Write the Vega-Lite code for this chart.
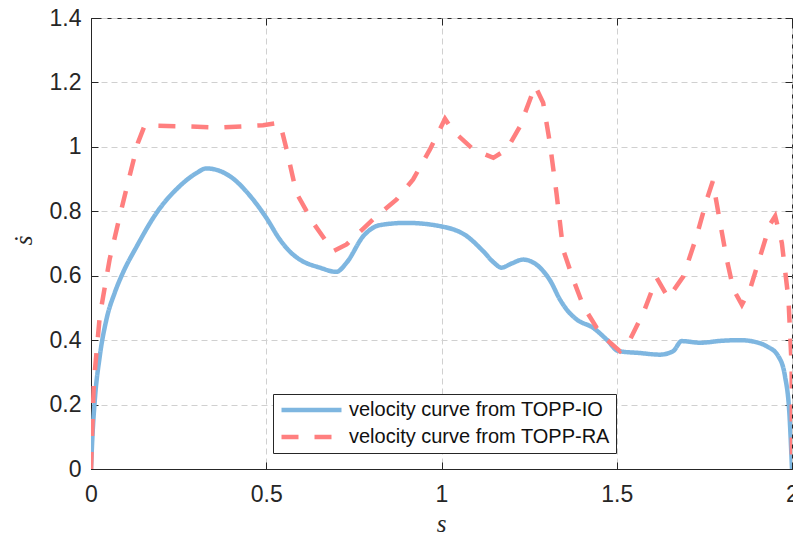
{
  "$schema": "https://vega.github.io/schema/vega-lite/v6.json",
  "width": 701,
  "height": 451,
  "autosize": {"type": "none"},
  "padding": {"left": 91, "top": 18, "right": 1, "bottom": 67},
  "background": "white",
  "config": {
    "view": {"stroke": "#262626", "strokeWidth": 1},
    "axis": {
      "labelFont": "Liberation Sans",
      "labelFontSize": 23,
      "labelColor": "#262626",
      "labelFlush": false,
      "domainColor": "#262626",
      "tickColor": "#262626",
      "tickSize": -7,
      "gridColor": "#d0d0d0",
      "gridDash": [6, 4],
      "gridWidth": 1
    }
  },
  "data": {
    "values": [
      {"s": 0, "v": 0, "series": "velocity curve from TOPP-IO"},
      {"s": 0.004, "v": 0.1, "series": "velocity curve from TOPP-IO"},
      {"s": 0.011, "v": 0.216, "series": "velocity curve from TOPP-IO"},
      {"s": 0.025, "v": 0.35, "series": "velocity curve from TOPP-IO"},
      {"s": 0.044, "v": 0.464, "series": "velocity curve from TOPP-IO"},
      {"s": 0.068, "v": 0.548, "series": "velocity curve from TOPP-IO"},
      {"s": 0.091, "v": 0.609, "series": "velocity curve from TOPP-IO"},
      {"s": 0.13, "v": 0.69, "series": "velocity curve from TOPP-IO"},
      {"s": 0.187, "v": 0.795, "series": "velocity curve from TOPP-IO"},
      {"s": 0.253, "v": 0.878, "series": "velocity curve from TOPP-IO"},
      {"s": 0.3, "v": 0.918, "series": "velocity curve from TOPP-IO"},
      {"s": 0.329, "v": 0.933, "series": "velocity curve from TOPP-IO"},
      {"s": 0.36, "v": 0.928, "series": "velocity curve from TOPP-IO"},
      {"s": 0.396, "v": 0.909, "series": "velocity curve from TOPP-IO"},
      {"s": 0.462, "v": 0.837, "series": "velocity curve from TOPP-IO"},
      {"s": 0.5, "v": 0.78, "series": "velocity curve from TOPP-IO"},
      {"s": 0.539, "v": 0.712, "series": "velocity curve from TOPP-IO"},
      {"s": 0.57, "v": 0.672, "series": "velocity curve from TOPP-IO"},
      {"s": 0.596, "v": 0.65, "series": "velocity curve from TOPP-IO"},
      {"s": 0.653, "v": 0.625, "series": "velocity curve from TOPP-IO"},
      {"s": 0.7, "v": 0.612, "series": "velocity curve from TOPP-IO"},
      {"s": 0.729, "v": 0.64, "series": "velocity curve from TOPP-IO"},
      {"s": 0.777, "v": 0.723, "series": "velocity curve from TOPP-IO"},
      {"s": 0.824, "v": 0.757, "series": "velocity curve from TOPP-IO"},
      {"s": 0.9, "v": 0.764, "series": "velocity curve from TOPP-IO"},
      {"s": 0.995, "v": 0.754, "series": "velocity curve from TOPP-IO"},
      {"s": 1.072, "v": 0.723, "series": "velocity curve from TOPP-IO"},
      {"s": 1.119, "v": 0.676, "series": "velocity curve from TOPP-IO"},
      {"s": 1.15, "v": 0.64, "series": "velocity curve from TOPP-IO"},
      {"s": 1.171, "v": 0.625, "series": "velocity curve from TOPP-IO"},
      {"s": 1.2, "v": 0.638, "series": "velocity curve from TOPP-IO"},
      {"s": 1.233, "v": 0.65, "series": "velocity curve from TOPP-IO"},
      {"s": 1.26, "v": 0.642, "series": "velocity curve from TOPP-IO"},
      {"s": 1.281, "v": 0.625, "series": "velocity curve from TOPP-IO"},
      {"s": 1.31, "v": 0.585, "series": "velocity curve from TOPP-IO"},
      {"s": 1.338, "v": 0.526, "series": "velocity curve from TOPP-IO"},
      {"s": 1.357, "v": 0.495, "series": "velocity curve from TOPP-IO"},
      {"s": 1.386, "v": 0.464, "series": "velocity curve from TOPP-IO"},
      {"s": 1.433, "v": 0.438, "series": "velocity curve from TOPP-IO"},
      {"s": 1.471, "v": 0.402, "series": "velocity curve from TOPP-IO"},
      {"s": 1.505, "v": 0.366, "series": "velocity curve from TOPP-IO"},
      {"s": 1.566, "v": 0.36, "series": "velocity curve from TOPP-IO"},
      {"s": 1.623, "v": 0.355, "series": "velocity curve from TOPP-IO"},
      {"s": 1.661, "v": 0.366, "series": "velocity curve from TOPP-IO"},
      {"s": 1.685, "v": 0.397, "series": "velocity curve from TOPP-IO"},
      {"s": 1.738, "v": 0.392, "series": "velocity curve from TOPP-IO"},
      {"s": 1.8, "v": 0.398, "series": "velocity curve from TOPP-IO"},
      {"s": 1.852, "v": 0.4, "series": "velocity curve from TOPP-IO"},
      {"s": 1.9, "v": 0.393, "series": "velocity curve from TOPP-IO"},
      {"s": 1.928, "v": 0.381, "series": "velocity curve from TOPP-IO"},
      {"s": 1.961, "v": 0.35, "series": "velocity curve from TOPP-IO"},
      {"s": 1.98, "v": 0.288, "series": "velocity curve from TOPP-IO"},
      {"s": 1.993, "v": 0.164, "series": "velocity curve from TOPP-IO"},
      {"s": 2.0, "v": 0.0, "series": "velocity curve from TOPP-IO"},
      {"s": 0, "v": 0, "series": "velocity curve from TOPP-RA"},
      {"s": 0.008, "v": 0.268, "series": "velocity curve from TOPP-RA"},
      {"s": 0.025, "v": 0.474, "series": "velocity curve from TOPP-RA"},
      {"s": 0.053, "v": 0.65, "series": "velocity curve from TOPP-RA"},
      {"s": 0.082, "v": 0.785, "series": "velocity curve from TOPP-RA"},
      {"s": 0.11, "v": 0.909, "series": "velocity curve from TOPP-RA"},
      {"s": 0.134, "v": 1.013, "series": "velocity curve from TOPP-RA"},
      {"s": 0.153, "v": 1.066, "series": "velocity curve from TOPP-RA"},
      {"s": 0.253, "v": 1.064, "series": "velocity curve from TOPP-RA"},
      {"s": 0.367, "v": 1.06, "series": "velocity curve from TOPP-RA"},
      {"s": 0.491, "v": 1.067, "series": "velocity curve from TOPP-RA"},
      {"s": 0.539, "v": 1.075, "series": "velocity curve from TOPP-RA"},
      {"s": 0.558, "v": 0.992, "series": "velocity curve from TOPP-RA"},
      {"s": 0.586, "v": 0.857, "series": "velocity curve from TOPP-RA"},
      {"s": 0.634, "v": 0.764, "series": "velocity curve from TOPP-RA"},
      {"s": 0.691, "v": 0.676, "series": "velocity curve from TOPP-RA"},
      {"s": 0.729, "v": 0.697, "series": "velocity curve from TOPP-RA"},
      {"s": 0.805, "v": 0.775, "series": "velocity curve from TOPP-RA"},
      {"s": 0.872, "v": 0.837, "series": "velocity curve from TOPP-RA"},
      {"s": 0.919, "v": 0.899, "series": "velocity curve from TOPP-RA"},
      {"s": 0.967, "v": 0.992, "series": "velocity curve from TOPP-RA"},
      {"s": 1.01, "v": 1.087, "series": "velocity curve from TOPP-RA"},
      {"s": 1.033, "v": 1.049, "series": "velocity curve from TOPP-RA"},
      {"s": 1.091, "v": 0.992, "series": "velocity curve from TOPP-RA"},
      {"s": 1.148, "v": 0.966, "series": "velocity curve from TOPP-RA"},
      {"s": 1.186, "v": 0.992, "series": "velocity curve from TOPP-RA"},
      {"s": 1.224, "v": 1.064, "series": "velocity curve from TOPP-RA"},
      {"s": 1.267, "v": 1.189, "series": "velocity curve from TOPP-RA"},
      {"s": 1.29, "v": 1.137, "series": "velocity curve from TOPP-RA"},
      {"s": 1.309, "v": 1.013, "series": "velocity curve from TOPP-RA"},
      {"s": 1.328, "v": 0.857, "series": "velocity curve from TOPP-RA"},
      {"s": 1.347, "v": 0.681, "series": "velocity curve from TOPP-RA"},
      {"s": 1.376, "v": 0.588, "series": "velocity curve from TOPP-RA"},
      {"s": 1.405, "v": 0.505, "series": "velocity curve from TOPP-RA"},
      {"s": 1.443, "v": 0.438, "series": "velocity curve from TOPP-RA"},
      {"s": 1.471, "v": 0.402, "series": "velocity curve from TOPP-RA"},
      {"s": 1.509, "v": 0.366, "series": "velocity curve from TOPP-RA"},
      {"s": 1.538, "v": 0.402, "series": "velocity curve from TOPP-RA"},
      {"s": 1.576, "v": 0.485, "series": "velocity curve from TOPP-RA"},
      {"s": 1.614, "v": 0.593, "series": "velocity curve from TOPP-RA"},
      {"s": 1.647, "v": 0.531, "series": "velocity curve from TOPP-RA"},
      {"s": 1.69, "v": 0.598, "series": "velocity curve from TOPP-RA"},
      {"s": 1.728, "v": 0.723, "series": "velocity curve from TOPP-RA"},
      {"s": 1.757, "v": 0.837, "series": "velocity curve from TOPP-RA"},
      {"s": 1.774, "v": 0.893, "series": "velocity curve from TOPP-RA"},
      {"s": 1.795, "v": 0.764, "series": "velocity curve from TOPP-RA"},
      {"s": 1.814, "v": 0.65, "series": "velocity curve from TOPP-RA"},
      {"s": 1.833, "v": 0.557, "series": "velocity curve from TOPP-RA"},
      {"s": 1.857, "v": 0.51, "series": "velocity curve from TOPP-RA"},
      {"s": 1.88, "v": 0.557, "series": "velocity curve from TOPP-RA"},
      {"s": 1.909, "v": 0.66, "series": "velocity curve from TOPP-RA"},
      {"s": 1.937, "v": 0.759, "series": "velocity curve from TOPP-RA"},
      {"s": 1.952, "v": 0.785, "series": "velocity curve from TOPP-RA"},
      {"s": 1.971, "v": 0.702, "series": "velocity curve from TOPP-RA"},
      {"s": 1.99, "v": 0.526, "series": "velocity curve from TOPP-RA"},
      {"s": 1.999, "v": 0.32, "series": "velocity curve from TOPP-RA"},
      {"s": 2.0, "v": 0.0, "series": "velocity curve from TOPP-RA"}
    ]
  },
  "layer": [
    {
      "transform": [{"filter": "datum.series === 'velocity curve from TOPP-IO'"}],
      "mark": {"type": "line", "interpolate": "monotone", "strokeWidth": 4.5, "clip": true},
      "encoding": {
        "x": {"field": "s", "type": "quantitative",
              "scale": {"domain": [0, 2], "nice": false, "zero": false},
              "axis": {"orient": "bottom", "values": [0, 0.5, 1, 1.5, 2], "format": "~g", "labelPadding": 21,
                       "title": "s", "titleFont": "Liberation Serif", "titleFontStyle": "italic", "titleFontWeight": "normal",
                       "titleFontSize": 25, "titleColor": "#262626", "titleX": 350, "titleY": 62, "titleAlign": "center", "titleBaseline": "alphabetic"}},
        "y": {"field": "v", "type": "quantitative",
              "scale": {"domain": [0, 1.4], "nice": false, "zero": false},
              "axis": {"orient": "left", "values": [0, 0.2, 0.4, 0.6, 0.8, 1, 1.2, 1.4], "format": "~g", "labelPadding": 17,
                       "title": "ṡ", "titleFont": "Liberation Serif", "titleFontStyle": "italic", "titleFontWeight": "normal",
                       "titleFontSize": 25, "titleColor": "#262626", "titleAngle": -90, "titleX": -60, "titleY": 222, "titleAlign": "center", "titleBaseline": "alphabetic"}},
        "color": {"field": "series", "type": "nominal",
                  "scale": {"domain": ["velocity curve from TOPP-IO", "velocity curve from TOPP-RA"], "range": ["#7eb6e0", "#ff7f7f"]},
                  "legend": {"title": null, "orient": "none", "legendX": 182, "legendY": 376,
                             "symbolType": "stroke", "symbolSize": 3600, "symbolStrokeWidth": 4.5, "clipHeight": 20,
                             "labelFont": "Liberation Sans", "labelFontSize": 20, "labelColor": "#111111", "labelOffset": 5, "labelLimit": 400,
                             "padding": 6, "rowPadding": 7, "strokeColor": "#262626", "fillColor": "white", "cornerRadius": 0}},
        "strokeDash": {"field": "series", "type": "nominal",
                       "scale": {"domain": ["velocity curve from TOPP-IO", "velocity curve from TOPP-RA"], "range": [[1, 0], [17, 16]]},
                       "legend": {"title": null, "orient": "none", "legendX": 182, "legendY": 376}}
      }
    },
    {
      "transform": [{"filter": "datum.series === 'velocity curve from TOPP-RA'"}],
      "mark": {"type": "line", "interpolate": "linear", "strokeWidth": 4.5, "clip": true},
      "encoding": {
        "x": {"field": "s", "type": "quantitative",
              "axis": {"orient": "top", "values": [0, 0.5, 1, 1.5, 2], "labels": false, "grid": false, "title": null, "domain": false}},
        "y": {"field": "v", "type": "quantitative",
              "axis": {"orient": "right", "values": [0, 0.2, 0.4, 0.6, 0.8, 1, 1.2, 1.4], "labels": false, "grid": false, "title": null, "domain": false}},
        "color": {"field": "series", "type": "nominal"},
        "strokeDash": {"field": "series", "type": "nominal"}
      }
    }
  ],
  "resolve": {"axis": {"x": "independent", "y": "independent"}}
}
